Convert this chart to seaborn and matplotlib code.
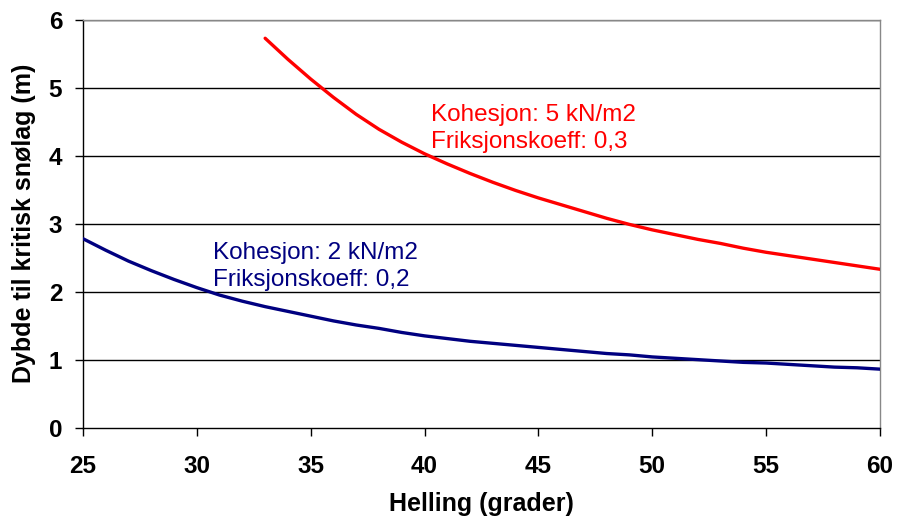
import matplotlib
matplotlib.use("Agg")
import matplotlib.pyplot as plt
import seaborn as sns
import pandas as pd

sns.set_theme(style="white")
plt.rcParams['font.family'] = ['Liberation Sans', 'DejaVu Sans']
plt.rcParams['text.color'] = 'black'
plt.rcParams['axes.labelcolor'] = 'black'
plt.rcParams['xtick.color'] = 'black'
plt.rcParams['ytick.color'] = 'black'

red_x = [33, 34, 35, 36, 37, 38, 39, 40, 41, 42, 43, 44, 45, 46, 47, 48, 49, 50,
         51, 52, 53, 54, 55, 56, 57, 58, 59, 60]
red_y = [5.73, 5.42, 5.13, 4.86, 4.61, 4.39, 4.20, 4.03, 3.88, 3.74, 3.61, 3.49,
         3.38, 3.28, 3.18, 3.08, 2.99, 2.91, 2.84, 2.77, 2.71, 2.64, 2.58, 2.53,
         2.48, 2.43, 2.38, 2.33]
blue_x = list(range(25, 61))
blue_y = [2.78, 2.61, 2.45, 2.31, 2.18, 2.06, 1.95, 1.86, 1.78, 1.71, 1.64, 1.57,
          1.51, 1.46, 1.40, 1.35, 1.31, 1.27, 1.24, 1.21, 1.18, 1.15, 1.12, 1.09,
          1.07, 1.04, 1.02, 1.00, 0.98, 0.96, 0.95, 0.93, 0.91, 0.89, 0.88, 0.86]
x_ticks = [25, 30, 35, 40, 45, 50, 55, 60]
y_ticks = [0, 1, 2, 3, 4, 5, 6]
red_label = "Kohesjon: 5 kN/m2\nFriksjonskoeff: 0,3"
blue_label = "Kohesjon: 2 kN/m2\nFriksjonskoeff: 0,2"

df_red = pd.DataFrame({"x": red_x, "y": red_y})
df_blue = pd.DataFrame({"x": blue_x, "y": blue_y})

fig = plt.figure(figsize=(8.97, 5.24), dpi=100)
ax = fig.add_axes([0.0925, 0.184, 0.8885, 0.778])

for yv in y_ticks[1:]:
    ax.axhline(yv, color="black", lw=1.0, zorder=1)

sns.lineplot(data=df_red, x="x", y="y", ax=ax, color="#FF0000", lw=2.4, zorder=3)
sns.lineplot(data=df_blue, x="x", y="y", ax=ax, color="#000080", lw=2.4, zorder=3)

ax.set_xlim(25, 60)
ax.set_ylim(0, 6)
ax.set_xticks(x_ticks)
ax.set_yticks(y_ticks)
ax.tick_params(axis="both", which="both", direction="out", length=6, width=1,
               color="black", labelcolor="black", labelsize=17.5,
               bottom=True, left=True)
ax.tick_params(axis="x", pad=14)
ax.tick_params(axis="y", pad=9)
for lab in ax.get_xticklabels() + ax.get_yticklabels():
    lab.set_fontweight("bold")

ax.set_xlabel("Helling (grader)", fontsize=18, fontweight="bold", labelpad=10,
              color="black")
ax.set_ylabel("Dybde til kritisk snølag (m)", fontsize=18, fontweight="bold",
              labelpad=9, color="black")

for s in ["left", "bottom"]:
    ax.spines[s].set_color("black")
    ax.spines[s].set_linewidth(1.0)
for s in ["top", "right"]:
    ax.spines[s].set_color("#888888")
    ax.spines[s].set_linewidth(1.0)

ax.text(40.3, 4.40, red_label, color="#FF0000", fontsize=17.5, va="center",
        ha="left", linespacing=1.32)
ax.text(30.7, 2.37, blue_label, color="#000080", fontsize=17.5, va="center",
        ha="left", linespacing=1.32)

fig.savefig("out.png", dpi=100)
